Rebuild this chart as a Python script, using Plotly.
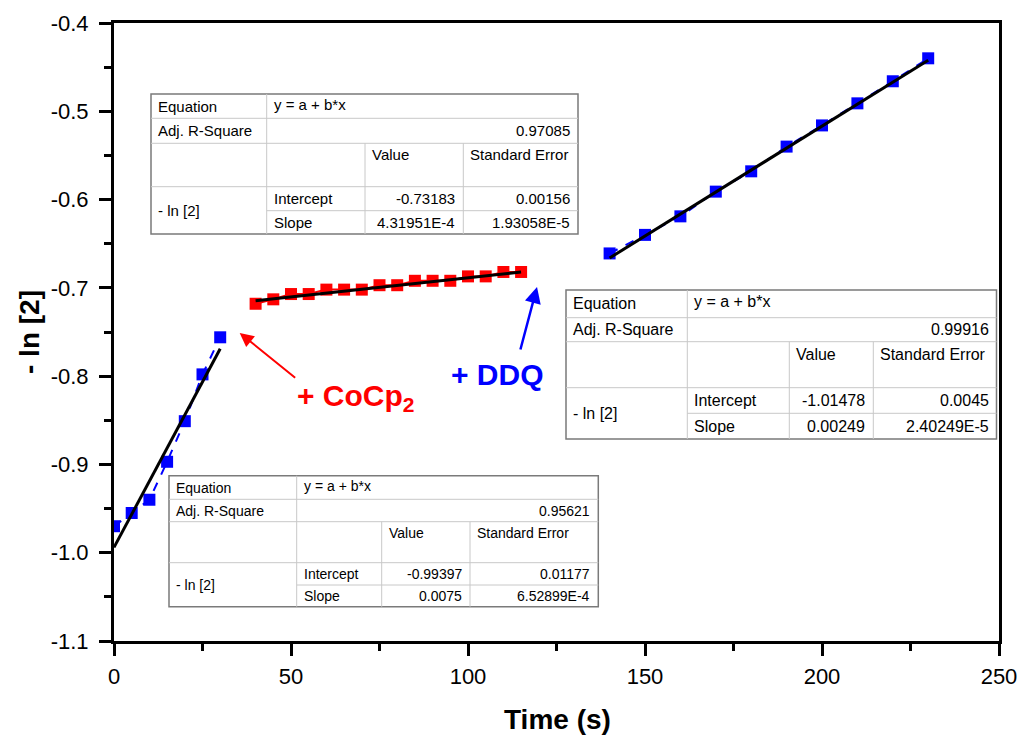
import plotly.graph_objects as go

# ---------------- data ----------------
t_before = [0, 5, 10, 15, 20, 25, 30]
y_before = [-0.970, -0.955, -0.940, -0.897, -0.851, -0.798, -0.756]

t_cocp = [40, 45, 50, 55, 60, 65, 70, 75, 80, 85, 90, 95, 100, 105, 110, 115]
y_cocp = [-0.718, -0.713, -0.707, -0.707, -0.702, -0.702, -0.702, -0.697,
          -0.697, -0.692, -0.692, -0.692, -0.687, -0.687, -0.682, -0.682]

t_ddq = [140, 150, 160, 170, 180, 190, 200, 210, 220, 230]
y_ddq = [-0.661, -0.640, -0.619, -0.591, -0.568, -0.540, -0.516, -0.491, -0.466, -0.440]

fit_before = {"intercept": -0.99397, "slope": 0.0075}
fit_cocp = {"intercept": -0.73183, "slope": 4.31951e-4}
fit_ddq = {"intercept": -1.01478, "slope": 0.00249}

table_before = ["0.95621", "-0.99397", "0.01177", "0.0075", "6.52899E-4"]
table_cocp = ["0.97085", "-0.73183", "0.00156", "4.31951E-4", "1.93058E-5"]
table_ddq = ["0.99916", "-1.01478", "0.0045", "0.00249", "2.40249E-5"]

x_tickvals = [0, 50, 100, 150, 200, 250]
x_ticktext = ["0", "50", "100", "150", "200", "250"]
y_tickvals = [-1.1, -1.0, -0.9, -0.8, -0.7, -0.6, -0.5, -0.4]
y_ticktext = ["-1.1", "-1.0", "-0.9", "-0.8", "-0.7", "-0.6", "-0.5", "-0.4"]

# ---------------- layout geometry (pixels) ----------------
W, H = 1023, 738
PL, PR, PT, PB = 114, 999, 23, 641   # plot area in pixels

def px(xp):
    return (xp - PL) / (PR - PL)

def py(yp):
    return (PB - yp) / (PB - PT)

FONT = "Liberation Sans, Arial, sans-serif"
BLUE = "#0000FF"
RED = "#FF0000"

fig = go.Figure()

def fit_line(ts, fit):
    xs = [min(ts), max(ts)]
    ys = [fit["intercept"] + fit["slope"] * x for x in xs]
    return xs, ys

# data series
fig.add_trace(go.Scatter(x=t_before, y=y_before, mode="lines+markers",
                         line=dict(color=BLUE, width=2, dash="dash"),
                         marker=dict(symbol="square", size=12, color=BLUE),
                         showlegend=False))
fig.add_trace(go.Scatter(x=t_cocp, y=y_cocp, mode="lines+markers",
                         line=dict(color=RED, width=2),
                         marker=dict(symbol="square", size=12, color=RED),
                         showlegend=False))
fig.add_trace(go.Scatter(x=t_ddq, y=y_ddq, mode="lines+markers",
                         line=dict(color=BLUE, width=2, dash="dash"),
                         marker=dict(symbol="square", size=12, color=BLUE),
                         showlegend=False))

for ts, fit in [(t_before, fit_before), (t_cocp, fit_cocp), (t_ddq, fit_ddq)]:
    xs, ys = fit_line(ts, fit)
    fig.add_trace(go.Scatter(x=xs, y=ys, mode="lines",
                             line=dict(color="black", width=3),
                             showlegend=False))

shapes = []
annotations = []

def draw_table(left, right, cols, rows, fs, vals):
    # cols: [c1, c2, c3] vertical separators; rows: [top, r1, r2, r3, r4, bottom]
    top, r1, r2, r3, r4, bottom = rows
    c1, c2, c3 = cols
    shapes.append(dict(type="rect", xref="paper", yref="paper",
                       x0=px(left), x1=px(right), y0=py(bottom), y1=py(top),
                       fillcolor="white", line=dict(color="#7a7a7a", width=1.5),
                       layer="above"))
    inner = dict(color="#c8c8c8", width=1)
    def hline(x0, x1, y):
        shapes.append(dict(type="line", xref="paper", yref="paper",
                           x0=px(x0), x1=px(x1), y0=py(y), y1=py(y),
                           line=inner, layer="above"))
    def vline(x, y0, y1):
        shapes.append(dict(type="line", xref="paper", yref="paper",
                           x0=px(x), x1=px(x), y0=py(y0), y1=py(y1),
                           line=inner, layer="above"))
    hline(left, right, r1)
    hline(left, right, r2)
    hline(left, right, r3)
    hline(c1, right, r4)
    vline(c1, top, bottom)
    vline(c2, r2, bottom)
    vline(c3, r2, bottom)

    def txt(s, x, y, anchor):
        annotations.append(dict(text=s, x=px(x), y=py(y), xref="paper", yref="paper",
                                xanchor=anchor, yanchor="middle", showarrow=False,
                                font=dict(family=FONT, size=fs, color="black")))
    padl, padr = 5, 6
    txt("Equation", left + padl, (top + r1) / 2, "left")
    txt("y = a + b*x", c1 + padl, (top + r1) / 2 - 2, "left")
    txt("Adj. R-Square", left + padl, (r1 + r2) / 2, "left")
    txt(vals[0], right - padr, (r1 + r2) / 2, "right")
    hdr_y = r2 + (r1 - top) / 2 - 1
    txt("Value", c2 + padl, hdr_y, "left")
    txt("Standard Error", c3 + padl, hdr_y, "left")
    txt("- ln [2]", left + padl, r4, "left")
    txt("Intercept", c1 + padl, (r3 + r4) / 2, "left")
    txt(vals[1], c3 - padr, (r3 + r4) / 2, "right")
    txt(vals[2], right - padr, (r3 + r4) / 2, "right")
    txt("Slope", c1 + padl, (r4 + bottom) / 2, "left")
    txt(vals[3], c3 - padr, (r4 + bottom) / 2, "right")
    txt(vals[4], right - padr, (r4 + bottom) / 2, "right")

draw_table(151, 578, [266.7, 365, 463.3], [94, 118.3, 143.3, 186.7, 210.7, 234], 15, table_cocp)
draw_table(566, 996.5, [687.3, 789.3, 873.3], [290, 317.7, 341.7, 387.7, 413.3, 439], 16, table_ddq)
draw_table(169, 598.3, [296.7, 381.7, 470], [475.7, 499.3, 521.7, 562.7, 585, 606.7], 14, table_before)

# arrows
annotations.append(dict(x=35.5, y=-0.751, xref="x", yref="y", ax=57, ay=46,
                        axref="pixel", ayref="pixel", text="", showarrow=True,
                        arrowhead=2, arrowsize=1.4, arrowwidth=2, arrowcolor=RED))
annotations.append(dict(x=119.5, y=-0.699, xref="x", yref="y", ax=-17, ay=64,
                        text="", showarrow=True,
                        arrowhead=2, arrowsize=1.3, arrowwidth=2.5, arrowcolor=BLUE))
# labels
annotations.append(dict(text="<b>+ CoCp<sub>2</sub></b>", x=px(295), y=py(398),
                        xref="paper", yref="paper", xanchor="left", yanchor="middle",
                        showarrow=False, font=dict(family=FONT, size=30, color=RED)))
annotations.append(dict(text="<b>+ DDQ</b>", x=px(449), y=py(374),
                        xref="paper", yref="paper", xanchor="left", yanchor="middle",
                        showarrow=False, font=dict(family=FONT, size=30, color=BLUE)))
# axis titles
annotations.append(dict(text="<b>Time (s)</b>", x=px(557), y=py(719),
                        xref="paper", yref="paper", xanchor="center", yanchor="middle",
                        showarrow=False, font=dict(family=FONT, size=28, color="black")))
annotations.append(dict(text="<b>- ln [2]</b>", x=px(29), y=py(332), textangle=-90,
                        xref="paper", yref="paper", xanchor="center", yanchor="middle",
                        showarrow=False, font=dict(family=FONT, size=28, color="black")))

axis_common = dict(showgrid=False, zeroline=False, showline=True, linewidth=3,
                   linecolor="black", mirror=True, ticks="outside", ticklen=12,
                   tickwidth=3, tickcolor="black",
                   tickfont=dict(family=FONT, size=22, color="black"))

fig.update_layout(
    width=W, height=H,
    margin=dict(l=PL, r=W - PR, t=PT, b=H - PB, autoexpand=False),
    paper_bgcolor="white", plot_bgcolor="white",
    xaxis=dict(range=[0, 250], tickmode="array", tickvals=x_tickvals, ticktext=x_ticktext,
               minor=dict(ticks="outside", ticklen=7, tickwidth=3, tickcolor="black",
                          tickvals=[25, 75, 125, 175, 225]),
               ticklabelstandoff=2,
               **axis_common),
    yaxis=dict(range=[-1.1, -0.4], tickmode="array", tickvals=y_tickvals, ticktext=y_ticktext,
               minor=dict(ticks="outside", ticklen=7, tickwidth=3, tickcolor="black",
                          tickvals=[-1.05, -0.95, -0.85, -0.75, -0.65, -0.55, -0.45]),
               ticklabelstandoff=6,
               **axis_common),
    shapes=shapes,
    annotations=annotations,
    showlegend=False,
)

fig.write_html("out.html")
